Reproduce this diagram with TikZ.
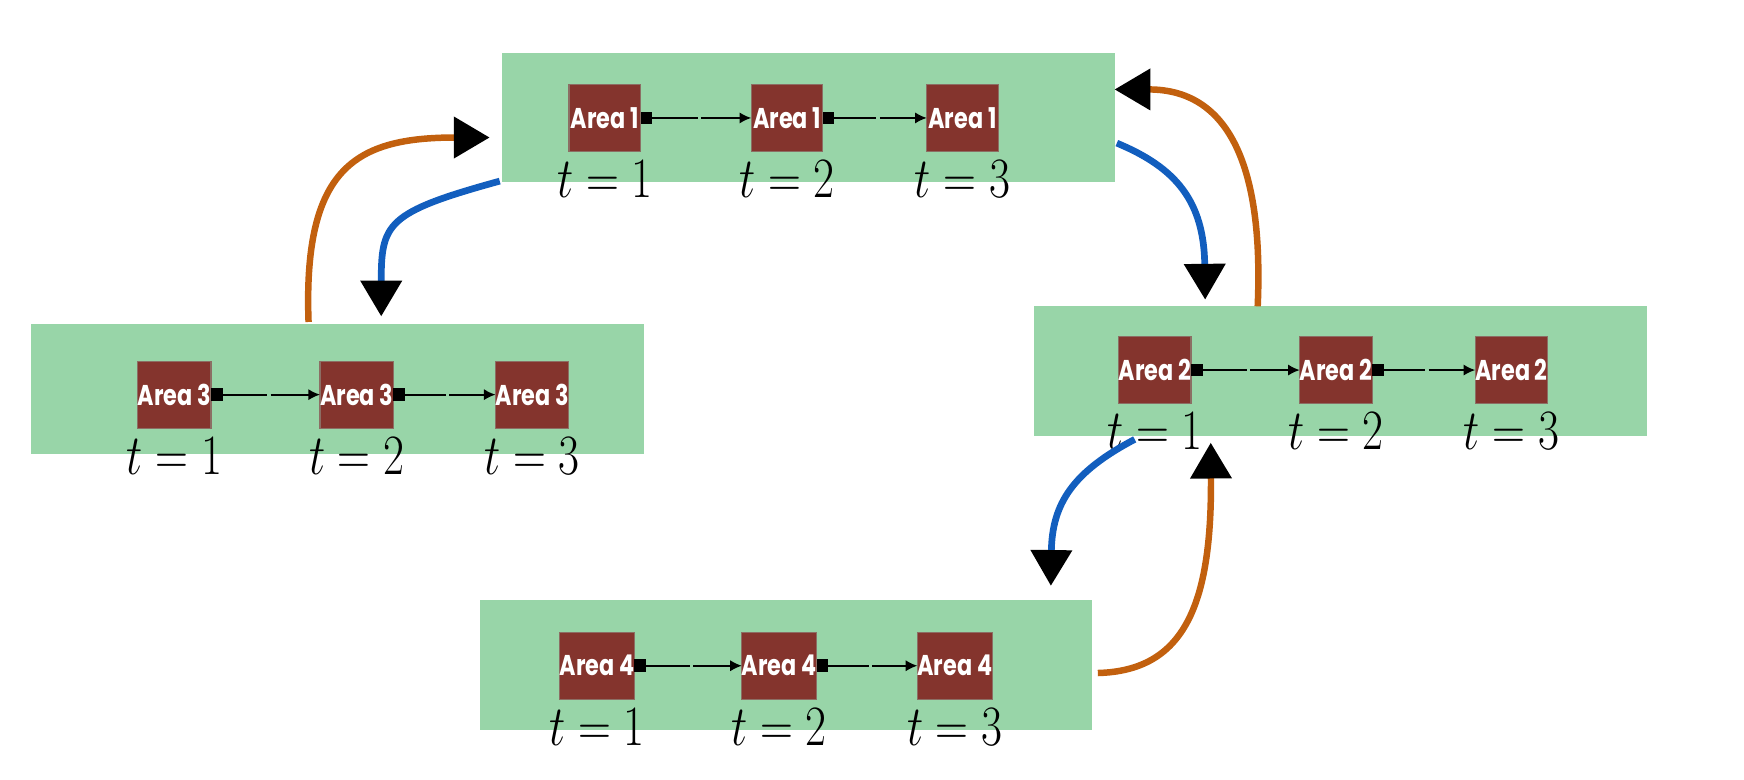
\RequirePackage{fix-cm}
\documentclass[tikz,border=0pt]{standalone}
\usepackage{fontspec}
\newfontfamily\areafont{Poppins}
\usetikzlibrary{arrows.meta,calc}
\definecolor{boxgreen}{RGB}{152,213,168}
\definecolor{areabrown}{RGB}{132,52,45}
\definecolor{areaborder}{RGB}{140,110,100}
\definecolor{flowOrange}{RGB}{194,96,14}
\definecolor{flowBlue}{RGB}{18,94,190}
\newcommand{\areatxt}[1]{\scalebox{0.78}[1]{#1}}
\newcommand{\tlab}[1]{\scalebox{0.8}[1]{$t=#1$}}
\begin{document}
\begin{tikzpicture}[x=0.5pt,y=-0.5pt,
  greenbox/.style={fill=boxgreen, draw=none, inner sep=0pt, outer sep=0pt, anchor=north west, minimum width=274pt, minimum height=58pt},
  areasq/.style={fill=areabrown, draw=areaborder, line width=0.5pt, inner sep=0pt, outer sep=0pt, minimum width=32pt, minimum height=30pt, text=white, font=\areafont\bfseries\fontsize{12.8}{13}\selectfont},
  tlabel/.style={anchor=base, inner sep=0pt, font=\fontsize{25.5}{26}\selectfont},
  stepline/.style={line width=0.8pt, draw=black},
  orangeflow/.style={draw=flowOrange, line width=2.9pt, -{Triangle[length=16pt,width=18pt,color=black]}},
  blueflow/.style={draw=flowBlue, line width=3pt, -{Triangle[length=16pt,width=18pt,color=black]}}
]
\useasboundingbox (0,0) rectangle (1560,697.7);
% green panels
\node[greenbox] (B1) at (449,47) {};
\node[greenbox] (B3) at (28,290) {};
\node[greenbox] (B2) at (925,274) {};
\node[greenbox] (B4) at (429,537) {};
% area squares, steps and labels
\foreach \g/\xa/\xb/\xc/\yy in {1/541/704/861/105.5, 3/156/319/476/353, 2/1033/1195/1352/331, 4/534/697/854/595.5}{
  \node[areasq] (s\g-1) at (\xa,\yy) {\areatxt{Area \g}};
  \node[areasq] (s\g-2) at (\xb,\yy) {\areatxt{Area \g}};
  \node[areasq] (s\g-3) at (\xc,\yy) {\areatxt{Area \g}};
  \foreach \i/\j in {1/2,2/3}{
    \draw[stepline, {Square[length=5.2pt,width=5.6pt]}-] (s\g-\i.east) -- ($(s\g-\i.east)!0.5!(s\g-\j.west)+(1.5,0)$);
    \draw[stepline, -{Latex[length=5.2pt,width=5pt]}] ($(s\g-\i.east)!0.5!(s\g-\j.west)+(4.5,0)$) -- (s\g-\j.west);
  }
  \foreach \i in {1,2,3}{
    \node[tlabel] (t\g-\i) at ([yshift=-20.5pt]s\g-\i.south) {\tlab{\i}};
  }
}
% flow curves
\coordinate (o1s) at (276,288);
\coordinate (o1e) at (438,123);
\coordinate (b1s) at (447,162);
\coordinate (b1e) at (341,283);
\coordinate (b2s) at (999,128);
\coordinate (b2e) at (1078,268);
\coordinate (o2s) at (1125,274);
\coordinate (o2e) at (997,80);
\coordinate (b3s) at (1015,393);
\coordinate (b3e) at (940,524);
\coordinate (o3s) at (982,602);
\coordinate (o3e) at (1083,396);
\draw[orangeflow] (o1s) .. controls (271,150) and (318,123) .. (o1e);
\draw[blueflow] (b1s) .. controls (345,190) and (341,200) .. (b1e);
\draw[blueflow] (b2s) .. controls (1052,150) and (1077,180) .. (b2e);
\draw[orangeflow] (o2s) .. controls (1130,160) and (1105,80) .. (o2e);
\draw[blueflow] (b3s) .. controls (960,422) and (941,450) .. (b3e);
\draw[orangeflow] (o3s) .. controls (1060,600) and (1084,540) .. (o3e);
\end{tikzpicture}
\end{document}
